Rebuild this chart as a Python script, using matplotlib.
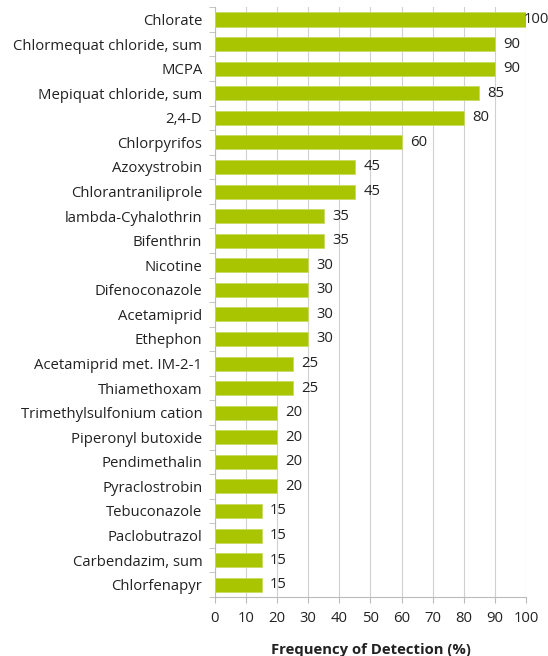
import matplotlib
matplotlib.use("Agg")
import matplotlib.pyplot as plt

plt.rcParams['font.family'] = ['Open Sans', 'DejaVu Sans']

compounds = ["Chlorate", "Chlormequat chloride, sum", "MCPA", "Mepiquat chloride, sum",
             "2,4-D", "Chlorpyrifos", "Azoxystrobin", "Chlorantraniliprole",
             "lambda-Cyhalothrin", "Bifenthrin", "Nicotine", "Difenoconazole",
             "Acetamiprid", "Ethephon", "Acetamiprid met. IM-2-1", "Thiamethoxam",
             "Trimethylsulfonium cation", "Piperonyl butoxide", "Pendimethalin",
             "Pyraclostrobin", "Tebuconazole", "Paclobutrazol", "Carbendazim, sum",
             "Chlorfenapyr"]
freq = [100, 90, 90, 85, 80, 60, 45, 45, 35, 35, 30, 30, 30, 30, 25, 25,
        20, 20, 20, 20, 15, 15, 15, 15]
xticks = list(range(0, 101, 10))

fs = 10.7

fig = plt.figure(figsize=(5.48, 6.56), dpi=100)
ax = fig.add_axes([0.392, 0.090, 0.568, 0.899])

ypos = list(range(len(compounds)))
ax.barh(ypos, freq, height=0.57, color='#a9c400', edgecolor='#c8dc60', linewidth=0.6, zorder=3)
ax.set_ylim(len(compounds) - 0.5, -0.5)
ax.set_xlim(0, 100)

ax.set_yticks(ypos)
ax.set_yticklabels(compounds, fontsize=fs, color='#222222')
ax.set_yticks([y - 0.5 for y in ypos] + [len(compounds) - 0.5], minor=True)
ax.tick_params(axis='y', which='major', length=0, pad=9)
ax.tick_params(axis='y', which='minor', length=4, color='#bbbbbb', direction='out')

ax.set_xticks(xticks)
ax.set_xticklabels([str(t) for t in xticks], fontsize=fs, color='#222222')
ax.tick_params(axis='x', length=4, color='#bbbbbb', direction='out', pad=6)

ax.grid(axis='x', color='#d0d0d0', linewidth=0.8, zorder=0)
for s in ['top', 'right']:
    ax.spines[s].set_visible(False)
for s in ['left', 'bottom']:
    ax.spines[s].set_color('#bbbbbb')
    ax.spines[s].set_linewidth(0.8)

for y, v in zip(ypos, freq):
    off = -2 if v == max(freq) else 6
    ax.annotate(str(v), (v, y), xytext=(off, 0), textcoords='offset points',
                va='center', ha='left', fontsize=fs, color='#222222', zorder=4,
                annotation_clip=False)

ax.set_xlabel("Frequency of Detection (%)", fontsize=fs, fontweight='bold', labelpad=12, color='#222222')

fig.savefig("out.png", dpi=100)
